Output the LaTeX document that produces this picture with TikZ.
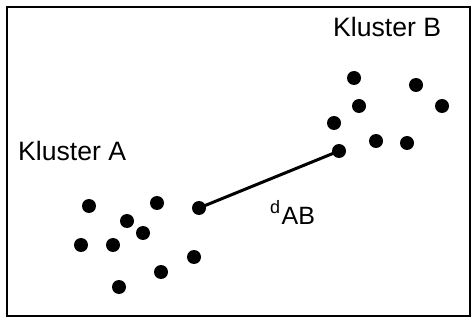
\documentclass[tikz,border=0pt]{standalone}
\usepackage{fontspec}
\setmainfont{Liberation Sans}
\usepackage{tikz}
\usetikzlibrary{positioning}

\begin{document}
\begin{tikzpicture}[x=1pt,y=-1pt,
    dot/.style={circle,fill=black,inner sep=0pt,minimum size=14pt},
    label/.style={inner sep=0pt,anchor=base west,font=\fontsize{26.6}{30}\selectfont},
    link/.style={line width=3pt,color=black},
    frame/.style={line width=1.6pt,color=black}
  ]
    \useasboundingbox (0,0) rectangle (473,320);
    \draw[frame] (7,7) rectangle (470,316);
    % Kluster A
    \node[dot] (a1) at (89,206) {};
    \node[dot] (a2) at (157,203) {};
    \node[dot] (a3) at (199,208) {};
    \node[dot] (a4) at (127,221) {};
    \node[dot] (a5) at (143,233) {};
    \node[dot] (a6) at (81,245) {};
    \node[dot] (a7) at (113,245) {};
    \node[dot] (a8) at (194,257) {};
    \node[dot] (a9) at (161,272) {};
    \node[dot] (a10) at (119,287) {};
    % Kluster B
    \node[dot] (b1) at (354,78) {};
    \node[dot] (b2) at (416,85) {};
    \node[dot] (b3) at (359,106) {};
    \node[dot] (b4) at (442,106) {};
    \node[dot] (b5) at (334,123) {};
    \node[dot] (b6) at (376,141) {};
    \node[dot] (b7) at (407,143) {};
    \node[dot] (b8) at (339,151) {};
    \node[label] (labelA) at (18,161) {Kluster A};
    \node[label] (labelB) at (333,37) {Kluster B};
    \node[inner sep=0pt,anchor=base west] (dist) at (270,214)
      {\fontsize{18}{20}\selectfont d\kern1.5pt\raisebox{-11pt}{\fontsize{25}{26}\selectfont AB}};
    \draw[link] (a3.center) -- (b8.center);
  \end{tikzpicture}
\end{document}
